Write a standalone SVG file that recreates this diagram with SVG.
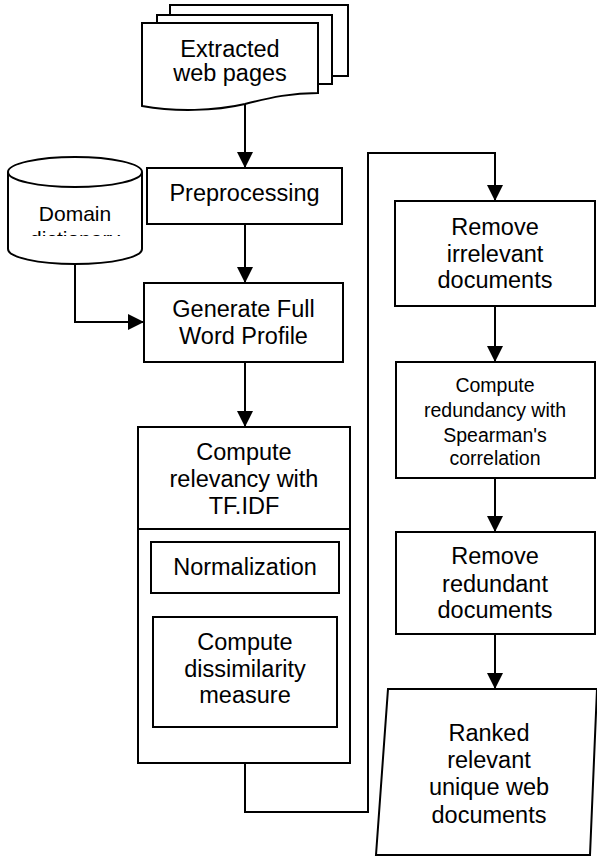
<svg xmlns="http://www.w3.org/2000/svg" width="597" height="859" viewBox="0 0 597 859">
<style>
.s{fill:#fff;stroke:#000;stroke-width:2}
.c{fill:none;stroke:#000;stroke-width:2}
.t{font-family:"Liberation Sans",Arial,sans-serif;font-size:23.5px;fill:#000;text-anchor:middle}
.m{font-size:19.5px}
.d{font-size:21px}
</style>
<defs>
<marker id="ar" markerUnits="userSpaceOnUse" markerWidth="16" markerHeight="16" viewBox="0 0 16 16" refX="16" refY="8" orient="auto">
<path d="M0,0 L16,8 L0,16 Z" fill="#000"/>
</marker>
<clipPath id="cyl"><rect x="8" y="150" width="136" height="86"/></clipPath>
</defs>
<g id="connectors">
<path class="c" d="M245,104 V168" marker-end="url(#ar)"/>
<path class="c" d="M245,224 V283" marker-end="url(#ar)"/>
<path class="c" d="M75,265 V322 H144" marker-end="url(#ar)"/>
<path class="c" d="M245,362 V427" marker-end="url(#ar)"/>
<path class="c" d="M245,763 V812 H368 V153 H495 V201" marker-end="url(#ar)"/>
<path class="c" d="M495,306 V362" marker-end="url(#ar)"/>
<path class="c" d="M495,478 V532" marker-end="url(#ar)"/>
<path class="c" d="M495,634 V689" marker-end="url(#ar)"/>
</g>
<g id="extracted">
<rect class="s" x="170" y="5" width="178" height="71"/>
<rect class="s" x="157" y="15" width="175" height="69"/>
<path class="s" d="M142,23 H318 V93 C292,93 272,97 245,104 C215,111 175,112 142,106 Z"/>
<text class="t" x="230" y="57">Extracted</text>
<text class="t" x="230" y="81">web pages</text>
</g>
<g id="domain">
<path class="s" d="M8,172 V249 A67,15 0 0 0 142,249 V172"/>
<ellipse class="s" cx="75" cy="172" rx="67" ry="15"/>
<g clip-path="url(#cyl)">
<text class="t d" x="75" y="221">Domain</text>
<text class="t d" x="75" y="246">dictionary</text>
</g>
</g>
<g id="preprocessing">
<rect class="s" x="147" y="168" width="195" height="56"/>
<text class="t" x="244.5" y="201">Preprocessing</text>
</g>
<g id="generate">
<rect class="s" x="144" y="283" width="199" height="79"/>
<text class="t" x="243.5" y="317">Generate Full</text>
<text class="t" x="243.5" y="344">Word Profile</text>
</g>
<g id="relevancy">
<rect class="s" x="138" y="427" width="212" height="336"/>
<line class="c" x1="138" y1="529" x2="350" y2="529"/>
<text class="t" x="244" y="460">Compute</text>
<text class="t" x="244" y="487">relevancy with</text>
<text class="t" x="244" y="514">TF.IDF</text>
</g>
<g id="normalization">
<rect class="s" x="151" y="542" width="188" height="51"/>
<text class="t" x="245" y="575">Normalization</text>
</g>
<g id="dissimilarity">
<rect class="s" x="153" y="617" width="184" height="110"/>
<text class="t" x="245" y="650">Compute</text>
<text class="t" x="245" y="677">dissimilarity</text>
<text class="t" x="245" y="703">measure</text>
</g>
<g id="irrelevant">
<rect class="s" x="395" y="201" width="200" height="105"/>
<text class="t" x="495" y="235">Remove</text>
<text class="t" x="495" y="262">irrelevant</text>
<text class="t" x="495" y="288">documents</text>
</g>
<g id="redundancy">
<rect class="s" x="396" y="362" width="199" height="116"/>
<text class="t m" x="495" y="392">Compute</text>
<text class="t m" x="495" y="417">redundancy with</text>
<text class="t m" x="495" y="442">Spearman's</text>
<text class="t m" x="495" y="465">correlation</text>
</g>
<g id="redundant">
<rect class="s" x="396" y="532" width="199" height="102"/>
<text class="t" x="495" y="564">Remove</text>
<text class="t" x="495" y="592">redundant</text>
<text class="t" x="495" y="618">documents</text>
</g>
<g id="ranked">
<path class="s" d="M388,689 H597 L590,855 H376 Z"/>
<text class="t" x="489" y="741">Ranked</text>
<text class="t" x="489" y="768">relevant</text>
<text class="t" x="489" y="795">unique web</text>
<text class="t" x="489" y="823">documents</text>
</g>
</svg>
